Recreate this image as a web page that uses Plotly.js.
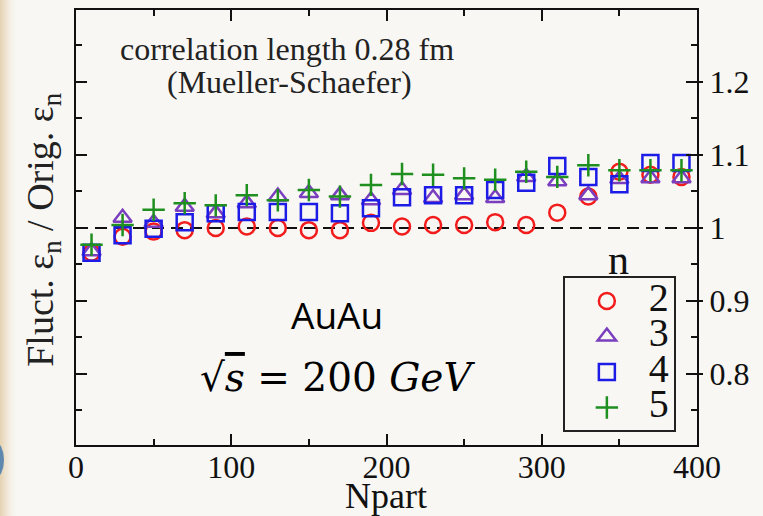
<!DOCTYPE html>
<html>
<head>
<meta charset="utf-8">
<script src="https://cdn.plot.ly/plotly-3.0.1.min.js"></script>
<style>
  html, body { margin: 0; padding: 0; }
  body {
    width: 763px; height: 516px; overflow: hidden; position: relative;
    background: linear-gradient(to right, #e4d2b2 0px, #efe4d2 6px, #f6f3ec 12px, #f8f7f3 18px);
  }
  #arc { position: absolute; left: -14px; top: 442px; width: 18px; height: 36px;
         border-radius: 50%; background: #5f88ae; }
  #chart { position: absolute; left: 0; top: 0; width: 763px; height: 516px; }
</style>
</head>
<body>
<div id="arc"></div>
<div id="chart"></div>
<script>
// ---- data ----
const npart = [10, 30, 50, 70, 90, 110, 130, 150, 170, 190, 210, 230, 250, 270, 290, 310, 330, 350, 370, 390];
const ratio_n2 = [0.966, 0.988, 0.995, 0.997, 1.000, 1.002, 1.000, 0.997, 0.997, 1.007, 1.002, 1.004, 1.004, 1.008, 1.004, 1.021, 1.043, 1.077, 1.073, 1.070];
const ratio_n3 = [0.968, 1.014, 1.007, 1.029, 1.020, 1.034, 1.043, 1.048, 1.045, 1.038, 1.052, 1.041, 1.045, 1.041, 1.070, 1.064, 1.045, 1.067, 1.068, 1.068];
const ratio_n4 = [0.966, 0.990, 0.999, 1.008, 1.020, 1.022, 1.022, 1.022, 1.020, 1.027, 1.042, 1.045, 1.045, 1.052, 1.062, 1.085, 1.070, 1.060, 1.089, 1.089];
const ratio_n5 = [0.977, 1.004, 1.025, 1.034, 1.031, 1.045, 1.038, 1.052, 1.043, 1.059, 1.074, 1.073, 1.068, 1.066, 1.077, 1.070, 1.086, 1.079, 1.079, 1.079];
const seriesNames = ['2', '3', '4', '5'];
const xTickVals = [0, 100, 200, 300, 400];
const yTickVals = [0.8, 0.9, 1.0, 1.1, 1.2];
const yTickText = ['0.8', '0.9', '1', '1.1', '1.2'];
const referenceLevel = 1;

const serif = 'Liberation Serif, Times New Roman, serif';
const styles = [
  {symbol: 'circle-open', color: '#f21c1c'},
  {symbol: 'triangle-up-open', color: '#7a3fbe'},
  {symbol: 'square-open', color: '#1c1ce6'},
  {symbol: 'cross-thin-open', color: '#1f8f1f'}
];
const ys = [ratio_n2, ratio_n3, ratio_n4, ratio_n5];

const traces = ys.map((y, i) => ({
  type: 'scatter', mode: 'markers', x: npart, y: y,
  name: '<span style="font-size:40px">' + seriesNames[i] + '</span>',
  marker: {symbol: styles[i].symbol, size: 16, color: styles[i].color,
           line: {color: styles[i].color, width: 2.5}},
  cliponaxis: false
}));
// invisible helper trace so the right-hand axis carries the tick labels
traces.push({type: 'scatter', mode: 'markers', x: [npart[0]], y: [referenceLevel],
  yaxis: 'y2', showlegend: false, hoverinfo: 'skip', marker: {opacity: 0}});

const yRange = [0.7027, 1.2986];

const layout = {
  width: 763, height: 516,
  margin: {l: 76, r: 66, t: 10, b: 71},
  paper_bgcolor: 'rgba(0,0,0,0)', plot_bgcolor: 'rgba(0,0,0,0)',
  font: {family: serif, color: '#111', size: 32},
  showlegend: true,
  legend: {
    x: 0.784, xanchor: 'left', y: 0.388, yanchor: 'top',
    bordercolor: '#222', borderwidth: 2, bgcolor: 'rgba(0,0,0,0)',
    font: {family: serif, size: 25, color: '#111'},
    itemwidth: 74, tracegroupgap: 0
  },
  xaxis: {
    range: [0, 400], tickvals: xTickVals, ticks: 'inside', ticklen: 11, tickwidth: 2,
    tickcolor: '#111', showline: true, linewidth: 2, linecolor: '#111', mirror: 'ticks',
    minor: {dtick: 50, ticks: 'inside', ticklen: 6, tickwidth: 2, tickcolor: '#111'},
    showgrid: false, zeroline: false, ticklabelstandoff: -7,
    tickfont: {family: serif, size: 32, color: '#111'}
  },
  yaxis: {
    range: yRange, dtick: 0.1, tick0: 0, ticks: 'inside', ticklen: 11, tickwidth: 2,
    tickcolor: '#111', showline: true, linewidth: 2, linecolor: '#111', mirror: 'ticks',
    minor: {dtick: 0.05, ticks: 'inside', ticklen: 6, tickwidth: 2, tickcolor: '#111'},
    showgrid: false, zeroline: false, showticklabels: false
  },
  yaxis2: {
    overlaying: 'y', side: 'right', range: yRange,
    tickvals: yTickVals, ticktext: yTickText, ticks: 'outside', ticklen: 5, tickwidth: 2,
    tickcolor: '#111', showline: false, showgrid: false, zeroline: false,
    tickfont: {family: serif, size: 32, color: '#111'}
  },
  shapes: [{
    type: 'line', xref: 'x', yref: 'y', x0: 0, x1: 400, y0: referenceLevel, y1: referenceLevel,
    line: {color: '#111', width: 2, dash: '12px,7px'}, layer: 'below'
  }],
  annotations: [
    {xref: 'paper', yref: 'paper', x: 0.34, y: 0.91, xanchor: 'center', yanchor: 'middle', showarrow: false,
     text: 'correlation length 0.28 fm', font: {family: serif, size: 32, color: '#222'}},
    {xref: 'paper', yref: 'paper', x: 0.343, y: 0.834, xanchor: 'center', yanchor: 'middle', showarrow: false,
     text: '(Mueller-Schaefer)', font: {family: serif, size: 32, color: '#222'}},
    {xref: 'paper', yref: 'paper', x: -0.053, y: 0.495, xanchor: 'center', yanchor: 'middle', showarrow: false, textangle: -90,
     text: 'Fluct. ε<sub>n</sub> / Orig. ε<sub>n</sub>', font: {family: serif, size: 38, color: '#222'}},
    {xref: 'paper', yref: 'paper', x: 0.499, y: -0.117, xanchor: 'center', yanchor: 'middle', showarrow: false,
     text: 'Npart', font: {family: serif, size: 36, color: '#111'}},
    {xref: 'paper', yref: 'paper', x: 0.4205, y: 0.299, xanchor: 'center', yanchor: 'middle', showarrow: false,
     text: 'AuAu', font: {family: 'Open Sans, Lato, sans-serif', size: 37, color: '#000'}},
    {xref: 'paper', yref: 'paper', x: 0.4205, y: 0.156, xanchor: 'center', yanchor: 'middle', showarrow: false,
     text: '√<span style="text-decoration:overline"><i>s</i></span> = 200 <i>GeV</i>',
     font: {family: 'DejaVu Serif, serif', size: 39, color: '#000'}},
    {xref: 'paper', yref: 'paper', x: 0.874, y: 0.425, xanchor: 'center', yanchor: 'middle', showarrow: false,
     text: 'n', font: {family: serif, size: 42, color: '#111'}}
  ]
};

Plotly.newPlot('chart', traces, layout, {displayModeBar: false, staticPlot: true});
</script>
</body>
</html>
